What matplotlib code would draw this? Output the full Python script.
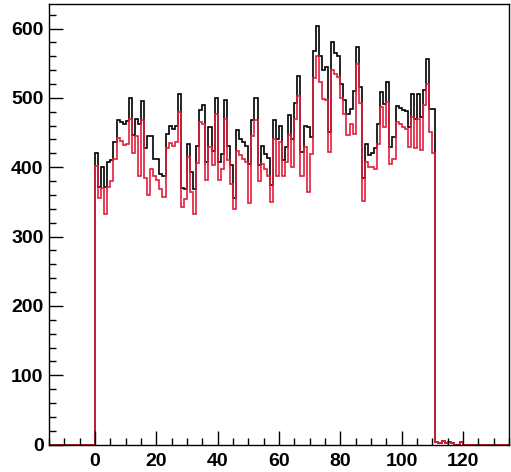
import matplotlib
matplotlib.use("Agg")
import matplotlib.pyplot as plt
import numpy as np
from matplotlib.ticker import MultipleLocator

# bin contents for x = 0..110 (1 unit wide bins)
black_counts = [421, 372, 400, 372, 408, 410, 437, 468, 465, 462,
                466, 500, 447, 470, 462, 495, 428, 445, 445, 412,
                412, 390, 388, 448, 460, 455, 460, 505, 370, 368,
                434, 393, 368, 431, 482, 489, 407, 458, 424, 500,
                407, 419, 497, 431, 403, 355, 453, 440, 437, 431,
                405, 468, 500, 403, 431, 419, 414, 374, 468, 441,
                460, 410, 429, 475, 441, 492, 532, 422, 460, 458,
                443, 568, 604, 561, 540, 544, 451, 580, 564, 561,
                520, 497, 477, 484, 510, 573, 516, 385, 434, 417,
                420, 427, 463, 509, 491, 523, 429, 444, 488, 485,
                483, 481, 458, 506, 470, 506, 472, 511, 556, 484,
                484]
red_counts = [402, 355, 370, 333, 372, 380, 412, 442, 438, 432,
              434, 470, 420, 445, 388, 468, 385, 360, 398, 388,
              382, 368, 357, 428, 435, 430, 437, 480, 343, 354,
              415, 364, 333, 406, 465, 463, 381, 429, 403, 477,
              381, 398, 470, 410, 376, 340, 424, 417, 412, 407,
              348, 445, 468, 380, 405, 398, 387, 350, 441, 388,
              436, 388, 408, 446, 400, 470, 503, 388, 429, 364,
              419, 528, 561, 523, 499, 497, 422, 540, 535, 530,
              500, 477, 446, 462, 448, 549, 492, 352, 408, 400,
              400, 398, 434, 487, 458, 494, 405, 412, 465, 462,
              458, 455, 429, 472, 427, 470, 425, 490, 520, 451,
              420]
# small tail after the edge, x = 111..120
tail_black = [4, 3, 5, 2, 4, 3, 0, 0, 4, 0]
tail_red = [4, 3, 5, 2, 4, 3, 0, 0, 4, 0]

x_min, x_max = -15, 135
edges = np.arange(x_min, x_max + 1)


def full_hist(main, tail):
    h = np.zeros(len(edges) - 1)
    start = 0 - x_min
    h[start:start + len(main)] = main
    h[start + len(main):start + len(main) + len(tail)] = tail
    return h


h_black = full_hist(black_counts, tail_black)
h_red = full_hist(red_counts, tail_red)

plt.rcParams['font.family'] = ['Liberation Sans', 'DejaVu Sans']

fig = plt.figure(figsize=(5.11, 4.72), dpi=100)
ax = fig.add_axes([0.096, 0.058, 0.9, 0.933])

ax.stairs(h_black, edges, color='black', lw=1.2)
ax.stairs(h_red, edges, color='#e0203c', lw=1.2)

ax.set_xlim(x_min, x_max)
ax.set_ylim(0, 635)

ax.xaxis.set_major_locator(MultipleLocator(20))
ax.xaxis.set_minor_locator(MultipleLocator(5))
ax.yaxis.set_major_locator(MultipleLocator(100))
ax.yaxis.set_minor_locator(MultipleLocator(20))
ax.tick_params(which='both', direction='in', top=False, right=False,
               width=1, color='black')
ax.tick_params(which='major', length=10, labelsize=14, pad=6)
ax.tick_params(which='minor', length=5)
ax.tick_params(axis='y', which='major', pad=4)
for lab in ax.get_xticklabels() + ax.get_yticklabels():
    lab.set_fontweight('bold')

for s in ax.spines.values():
    s.set_linewidth(1)

fig.savefig('out.png', dpi=100)
